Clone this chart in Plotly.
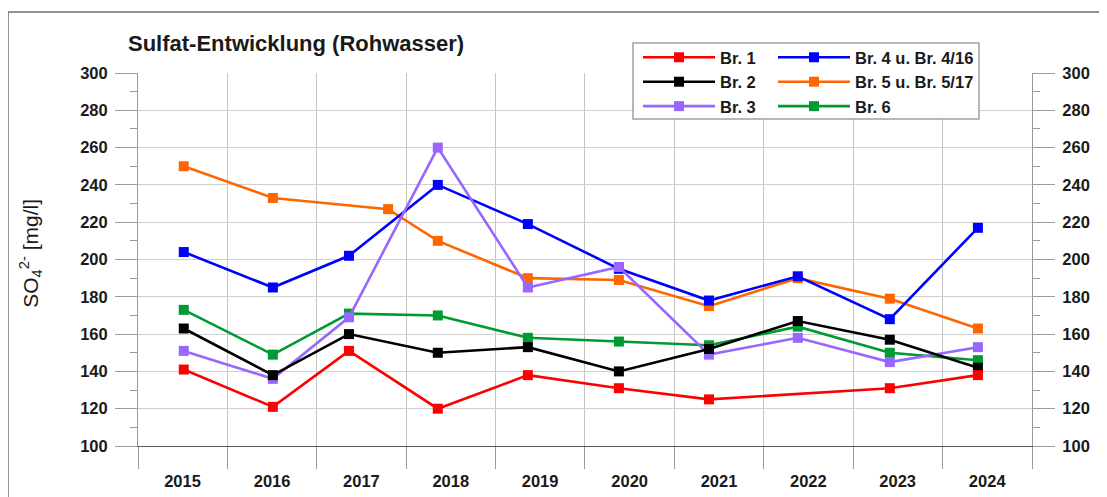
import plotly.graph_objects as go

# ---------------- data ----------------
years = [2015, 2016, 2017, 2018, 2019, 2020, 2021, 2022, 2023, 2024]
sample_dates = ["2015-07-07", "2016-07-05", "2017-05-12", "2018-05-10", "2019-05-13",
                "2020-05-19", "2021-05-22", "2022-05-20", "2023-05-31", "2024-05-25"]
sample_dates_br5 = ["2015-07-07", "2016-07-05", "2017-10-19", "2018-05-10", "2019-05-13",
                    "2020-05-19", "2021-05-22", "2022-05-20", "2023-05-31", "2024-05-25"]

br1 = [141, 121, 151, 120, 138, 131, 125, None, 131, 138]
br2 = [163, 138, 160, 150, 153, 140, 152, 167, 157, 142]
br3 = [151, 136, 169, 260, 185, 196, 149, 158, 145, 153]
br4 = [204, 185, 202, 240, 219, 195, 178, 191, 168, 217]
br5 = [250, 233, 227, 210, 190, 189, 175, 190, 179, 163]
br6 = [173, 149, 171, 170, 158, 156, 154, 164, 150, 146]

year_label_pos = [f"{y}-07-02" for y in years]
year_bounds = [f"{y}-01-01" for y in years + [2025]]
y_ticks = list(range(100, 301, 20))

# ---------------- layout geometry (pixels) ----------------
O = 8  # page body margin offset
W, H = 1107 - O, 497 - O
L, R, T = 138 - O, 75, 73 - O
B = H - (446.5 - O)
PW, PH = W - L - R, H - T - B


def px(xp):
    # xp in screenshot pixels
    return (xp - O - L) / PW


def py(yp):
    return (H - B - (yp - O)) / PH


FONT = "Liberation Sans, Arial, sans-serif"
TXT = "#1a1a1a"

fig = go.Figure()

# drawing order bottom -> top
series = [
    ("Br. 6", br6, sample_dates, "#009933", "legend2"),
    ("Br. 5 u. Br. 5/17", br5, sample_dates_br5, "#FF6600", "legend2"),
    ("Br. 4 u. Br. 4/16", br4, sample_dates, "#0000FF", "legend2"),
    ("Br. 3", br3, sample_dates, "#9966FF", "legend"),
    ("Br. 2", br2, sample_dates, "#000000", "legend"),
    ("Br. 1", br1, sample_dates, "#FF0000", "legend"),
]
for name, vals, dates, col, lg in series:
    fig.add_trace(go.Scatter(
        x=dates, y=vals, name=name, mode="lines+markers",
        line=dict(color=col, width=2.6),
        marker=dict(symbol="square", size=10, color=col),
        connectgaps=True, legend=lg,
    ))

axis_tick_font = dict(family=FONT, size=16.5, color=TXT, weight="bold")

yaxis_common = dict(
    range=[100, 300], tickmode="array", tickvals=y_ticks,
    ticks="outside", ticklen=22, tickcolor="#9a9a9a", tickwidth=1,
    showgrid=True, gridcolor="#cfcfcf", gridwidth=1,
    showline=True, linecolor="#9a9a9a", linewidth=1,
    zeroline=False, tickfont=axis_tick_font, ticklabelstandoff=4,
    minor=dict(dtick=10, tick0=100, ticks="outside", ticklen=7,
               tickcolor="#9a9a9a", showgrid=False),
)

legend_common = dict(
    xref="paper", yref="paper", xanchor="left", yanchor="top",
    bgcolor="rgba(0,0,0,0)", borderwidth=0,
    traceorder="reversed", itemwidth=72,
    font=dict(family=FONT, size=16.5, color=TXT, weight="bold"),
)

fig.update_layout(
    width=W, height=H,
    margin=dict(l=L, r=R, t=T, b=B, autoexpand=False),
    paper_bgcolor="white", plot_bgcolor="white",
    font=dict(family=FONT, color=TXT),
    title=dict(text="<b>Sulfat-Entwicklung (Rohwasser)</b>",
               font=dict(family=FONT, size=22, color=TXT),
               xref="container", yref="container",
               x=(128 - O) / W, xanchor="left", y=1 - (43 - O) / H, yanchor="middle"),
    xaxis=dict(
        type="date", range=["2015-01-01", "2025-01-01"],
        tickmode="array", tickvals=year_label_pos, ticktext=[str(y) for y in years],
        ticks="", showgrid=False, showline=True, linecolor="#5a5a5a", linewidth=1,
        zeroline=False, tickfont=axis_tick_font, ticklabelstandoff=20,
        minor=dict(tickmode="array", tickvals=year_bounds, ticks="outside",
                   ticklen=22, tickcolor="#9a9a9a", showgrid=True,
                   gridcolor="#c4c4c4", gridwidth=1),
    ),
    yaxis=yaxis_common,
    yaxis2=dict(yaxis_common, overlaying="y", side="right", anchor="x",
                showgrid=False),
    legend=dict(legend_common, x=px(638), y=py(40)),
    legend2=dict(legend_common, x=px(773), y=py(40)),
    showlegend=True,
)

# invisible trace to anchor the right axis
fig.add_trace(go.Scatter(x=sample_dates, y=br2, yaxis="y2", mode="lines",
                         line=dict(width=0, color="rgba(0,0,0,0)"),
                         showlegend=False, hoverinfo="skip"))

# outer frame
fig.add_shape(type="rect", xref="paper", yref="paper",
              x0=px(8), x1=px(1112), y0=py(502), y1=py(12),
              line=dict(color="#707070", width=1.5), fillcolor="rgba(0,0,0,0)",
              layer="below")
# legend box
fig.add_shape(type="rect", xref="paper", yref="paper",
              x0=px(633), x1=px(979), y0=py(119), y1=py(43),
              line=dict(color="#a0a0a0", width=1.5), fillcolor="white",
              layer="above")

# y-axis title
fig.add_annotation(text="SO<sub>4</sub><sup>2-</sup> [mg/l]", textangle=-90,
                   xref="paper", yref="paper", x=px(31), y=py(254),
                   xanchor="center", yanchor="middle", showarrow=False,
                   font=dict(family=FONT, size=21, color=TXT))

fig.write_html("out.html")
